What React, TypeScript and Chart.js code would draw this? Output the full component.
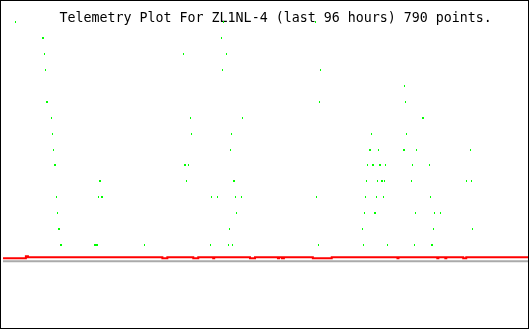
import { useEffect, useRef } from 'react';
import { Chart, registerables } from 'chart.js';

Chart.register(...registerables);

const TITLE = 'Telemetry Plot For ZL1NL-4 (last 96 hours) 790 points.';
const HOURS_MIN = 0;
const HOURS_MAX = 96;

// green telemetry samples: time (hours into the 96 h window) and level
const greenHours = [
  2.45, 7.36, 7.55, 7.73, 7.91, 8.09, 8.27, 9.0, 9.18, 9.36, 9.55, 9.73, 9.91, 10.09, 10.27, 10.45, 10.64, 10.82,
  16.82, 17.0, 17.18, 17.36, 17.55, 17.73, 17.91, 18.09, 18.27,
  26.09,
  33.18, 33.36, 33.55, 33.73, 34.09, 34.45, 34.64,
  38.09, 38.27, 39.36, 40.09, 40.27, 40.45, 41.0, 41.36, 41.55, 41.73, 41.91, 42.09, 42.27, 42.45, 42.64, 42.82, 43.73, 43.91,
  57.18, 57.36, 57.73, 57.91, 58.09,
  65.73, 65.91, 66.09, 66.27, 66.45, 66.64, 67.0, 67.18, 67.36, 67.55, 67.73, 67.91, 68.09, 68.27, 68.45, 68.64, 68.82, 69.0, 69.18, 69.36, 69.55, 69.73, 69.91, 70.27,
  73.36, 73.55, 73.55, 73.73, 73.91, 74.82, 75.0, 75.36, 75.55, 75.73, 76.82, 77.0, 78.09, 78.27, 78.45, 78.64, 78.82, 79.0, 80.09,
  84.82, 85.55, 85.73, 85.91,
];
const greenLevels = [
  15, 14, 14, 13, 12, 10, 10, 9, 8, 7, 6, 6, 4, 3, 2, 2, 1, 1,
  1, 1, 1, 1, 4, 5, 5, 4, 4,
  1,
  13, 6, 6, 5, 6, 9, 8,
  1, 4, 4, 14, 12, 15, 13, 1, 2, 7, 8, 1, 5, 5, 4, 3, 4, 9,
  15, 4, 1, 10, 12,
  2, 1, 3, 4, 5, 6, 7, 7, 8, 6, 6, 3, 3, 4, 5, 7, 6, 6, 5, 5, 4, 5, 6, 1,
  7, 7, 11, 10, 8, 5, 6, 1, 3, 7, 9, 9, 6, 4, 1, 1, 2, 3, 3,
  5, 7, 5, 2,
];

// red trace: value changes (step line)
const redHours = [
  0.18, 4.36, 4.73, 29.27, 30.18, 34.91, 35.82, 38.55, 38.73, 45.27, 46.18, 50.36, 50.55,
  51.09, 51.45, 56.73, 60.18, 72.18, 72.36, 79.45, 79.64, 80.91, 81.09, 84.18, 84.73, 96,
];
const redLevels = [
  0.1875, 0.3125, 0.25, 0.1875, 0.25, 0.1875, 0.25, 0.1875, 0.25, 0.1875, 0.25, 0.1875, 0.25,
  0.1875, 0.25, 0.1875, 0.25, 0.1875, 0.25, 0.1875, 0.25, 0.1875, 0.25, 0.1875, 0.25, 0.25,
];

// grey zero reference line
const baseHours = [0.18, 96];
const baseLevels = [0, 0];

const LEVEL_MIN = -4.1875;
const LEVEL_MAX = 16.25;

const titlePlugin = {
  id: 'plotTitle',
  beforeDatasetsDraw(chart: any) {
    const ctx = chart.ctx as CanvasRenderingContext2D;
    ctx.save();
    ctx.font = '13.3px "DejaVu Sans Mono", monospace';
    ctx.fillStyle = '#000000';
    ctx.textAlign = 'left';
    ctx.textBaseline = 'alphabetic';
    ctx.fillText(TITLE, 59.5, 22);
    ctx.restore();
    ctx.imageSmoothingEnabled = false;
  },
};

export default function App() {
  const ref = useRef<HTMLCanvasElement>(null);

  useEffect(() => {
    const dot = document.createElement('canvas');
    dot.width = 1;
    dot.height = 2;
    const dctx = dot.getContext('2d')!;
    dctx.fillStyle = '#00ff00';
    dctx.fillRect(0, 0, 1, 2);

    const chart = new Chart(ref.current!, {
      type: 'scatter',
      data: {
        datasets: [
          {
            label: 'green',
            data: greenHours.map((x, i) => ({ x, y: greenLevels[i] })),
            pointStyle: dot as any,
            pointRadius: 1,
            pointHoverRadius: 1,
            showLine: false,
            backgroundColor: '#00ff00',
            borderColor: '#00ff00',
          },
          {
            label: 'red',
            data: redHours.map((x, i) => ({ x, y: redLevels[i] })),
            showLine: true,
            stepped: true,
            borderColor: '#ff0000',
            backgroundColor: '#ff0000',
            borderWidth: 2,
            pointRadius: 0,
            fill: false,
          },
          {
            label: 'base',
            data: baseHours.map((x, i) => ({ x, y: baseLevels[i] })),
            showLine: true,
            borderColor: '#aaaaaa',
            backgroundColor: '#aaaaaa',
            borderWidth: 2,
            pointRadius: 0,
            fill: false,
          },
        ],
      },
      options: {
        responsive: false,
        animation: false,
        events: [],
        layout: { padding: { left: 0, top: 1, right: 2, bottom: 2 } },
        plugins: {
          legend: { display: false },
          tooltip: { enabled: false },
          title: { display: false },
        },
        scales: {
          x: { type: 'linear', min: HOURS_MIN, max: HOURS_MAX, display: false },
          y: { type: 'linear', min: LEVEL_MIN, max: LEVEL_MAX, display: false },
        },
      },
      plugins: [titlePlugin],
    });
    return () => chart.destroy();
  }, []);

  return (
    <div style={{ position: 'fixed', left: 0, top: 0, width: 530, height: 330, background: '#ffffff' }}>
      <canvas ref={ref} width={530} height={330} style={{ width: 530, height: 330, display: 'block' }} />
      <div
        style={{
          position: 'absolute',
          left: 0,
          top: 0,
          width: 527,
          height: 327,
          border: '1px solid #000000',
          pointerEvents: 'none',
        }}
      />
    </div>
  );
}
